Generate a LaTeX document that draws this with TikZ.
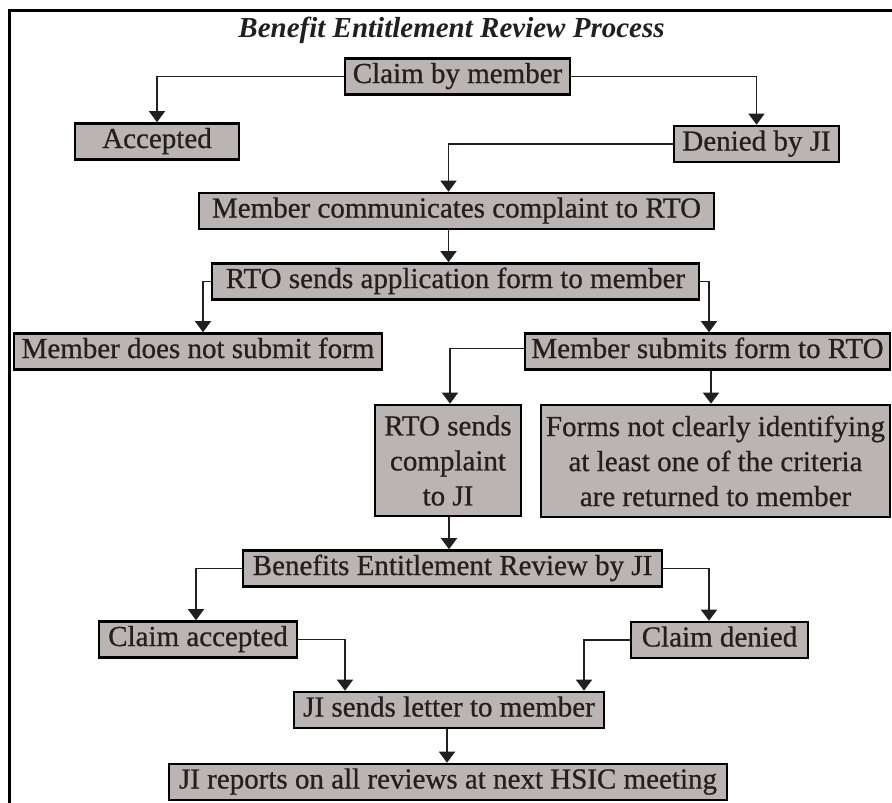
\documentclass[tikz,border=0pt]{standalone}
\usepackage{fontspec}
\setmainfont{Liberation Serif}
\newfontfamily\boxfont{Liberation Serif}[FakeBold=0.7]
\usepackage{xcolor}
\usepackage{tikz}
\usetikzlibrary{arrows.meta,positioning,calc}
\definecolor{boxGray}{HTML}{BAB5B3}
\definecolor{lineDark}{HTML}{231F20}

\begin{document}
\begin{tikzpicture}[x=1pt,y=-1pt,
  stepbox/.style={draw=black,line width=2.6pt,fill=boxGray,inner xsep=4pt,inner ysep=0pt,
    minimum height=36pt,text height=20pt,text depth=7pt,font=\fontsize{29}{35}\boxfont,text=lineDark},
  tallbox/.style={stepbox,text height=,text depth=,align=center},
  arr/.style={draw=lineDark,line width=1.7pt,-{Triangle[width=16pt,length=11pt]}}]
\useasboundingbox (0,0) rectangle (892,803);
\clip (0,0) rectangle (892,803);
\draw[line width=3pt] (9,10) rectangle (905,815);
\node[anchor=base,font=\fontsize{29}{35}\selectfont\bfseries\itshape,text=lineDark] (title) at (451.5,37) {Benefit Entitlement Review Process};
\node[stepbox,minimum width=225pt] (claim) at (457.5,76.5) {Claim by member};
\node[stepbox,minimum width=164pt] (accepted) at (157,141.5) {Accepted};
\node[stepbox,minimum width=165pt] (denied) at (756.5,144) {Denied by JI};
\node[stepbox,minimum width=515pt] (comm) at (456.5,211) {Member communicates complaint to RTO};
\node[stepbox,minimum width=487pt] (appform) at (455.5,281.5) {RTO sends application form to member};
\node[stepbox,minimum width=368pt] (nosubmit) at (198,351.5) {Member does not submit form};
\node[stepbox,minimum width=365pt] (submits) at (707.5,351.5) {Member submits form to RTO};
\node[tallbox,minimum width=146pt,minimum height=111pt] (complaint) at (448,460.5) {RTO sends\\complaint\\to JI};
\node[tallbox,minimum width=349pt,minimum height=112pt] (forms) at (715.5,461) {Forms not clearly identifying\\at least one of the criteria\\are returned to member};
\node[stepbox,minimum width=419pt] (review) at (452.5,568.5) {Benefits Entitlement Review by JI};
\node[stepbox,minimum width=198pt] (acc2) at (198,639.5) {Claim accepted};
\node[stepbox,minimum width=177pt] (den2) at (719.5,640) {Claim denied};
\node[stepbox,minimum width=310pt] (letter) at (449,710) {JI sends letter to member};
\node[stepbox,minimum width=558pt] (reports) at (448,782) {JI reports on all reviews at next HSIC meeting};
% connectors
\draw[arr] (claim.west) -| (accepted.north);
\draw[arr] (claim.east) -| (denied.north);
\draw[arr] (denied.west) -| ([xshift=-8]comm.north);
\draw[arr] ([xshift=-8]comm.south) -- ([xshift=-8]comm.south |- appform.north);
\draw[arr] (appform.west) -| ([xshift=5]nosubmit.north);
\draw[arr] (appform.east) -| ([xshift=1.5]submits.north);
\draw[arr] ([yshift=3]submits.west) -| ([xshift=2]complaint.north);
\draw[arr] ([xshift=3.5]submits.south) -- ([xshift=3.5]submits.south |- forms.north);
\draw[arr] ([xshift=1]complaint.south) -- ([xshift=1]complaint.south |- review.north);
\draw[arr] (review.west) -| ([xshift=-2]acc2.north);
\draw[arr] (review.east) -| ([xshift=-10.5]den2.north);
\draw[arr] (acc2.east) -| ([xshift=-104]letter.north);
\draw[arr] (den2.west) -| ([xshift=135]letter.north);
\draw[arr] ([xshift=-2]letter.south) -- ([xshift=-2]letter.south |- reports.north);
\end{tikzpicture}
\end{document}
